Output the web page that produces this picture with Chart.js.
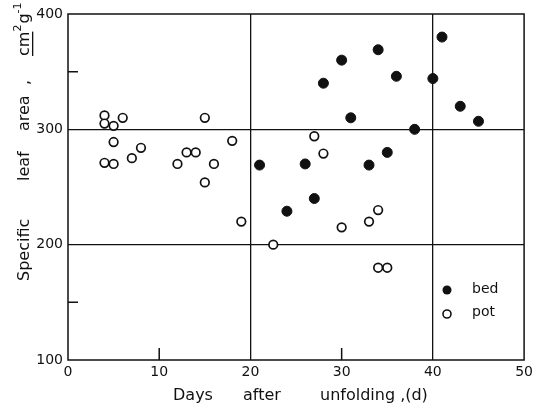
<!DOCTYPE html>
<html>
<head>
<meta charset="utf-8">
<script src="https://cdn.jsdelivr.net/npm/chart.js@4"></script>
<style>
  body { margin: 0; background: #fff; }
  canvas { display: block; }
</style>
</head>
<body>
<canvas id="chart" width="537" height="407"></canvas>
<script>
// values (days after unfolding, specific leaf area cm2/g)
const bedDays = [21, 24, 26, 27, 28, 30, 31, 33, 34, 35, 36, 38, 40, 41, 43, 45];
const bedSla  = [269, 229, 270, 240, 340, 360, 310, 269, 369, 280, 346, 300, 344, 380, 320, 307];

const potDays = [4, 4, 5, 6, 5, 4, 5, 7, 8, 12, 13, 14, 15, 16, 15, 18, 19, 22.5, 27, 28, 30, 33, 34, 34, 35];
const potSla  = [312, 305, 303, 310, 289, 271, 270, 275, 284, 270, 280, 280, 310, 270, 254, 290, 220, 200, 294, 279, 215, 220, 230, 180, 180];

const xTicks = [0, 10, 20, 30, 40, 50];
const yTicks = [100, 200, 300, 400];
const xGrid = [20, 40];
const yGrid = [200, 300];
const xMinor = [10, 30];
const yMinor = [150, 350];

const FONT = '"DejaVu Sans", sans-serif';

function toPoints(xs, ys) {
  return xs.map((x, i) => ({ x, y: ys[i] }));
}

// frame, inward minor ticks, axis titles and the legend
const decor = {
  id: 'decor',
  afterDraw(chart) {
    const { ctx, chartArea: a, scales } = chart;
    ctx.save();
    ctx.strokeStyle = '#111';
    ctx.lineWidth = 1.5;
    ctx.strokeRect(a.left, a.top, a.right - a.left, a.bottom - a.top);

    ctx.beginPath();
    for (const v of xMinor) {
      const px = scales.x.getPixelForValue(v);
      ctx.moveTo(px, a.bottom);
      ctx.lineTo(px, a.bottom - 12);
    }
    for (const v of yMinor) {
      const py = scales.y.getPixelForValue(v);
      ctx.moveTo(a.left, py);
      ctx.lineTo(a.left + 10, py);
    }
    ctx.stroke();

    ctx.fillStyle = '#111';
    ctx.textBaseline = 'alphabetic';

    // x title
    ctx.font = '16px ' + FONT;
    ctx.textAlign = 'left';
    ctx.fillText('Days', 173, 400);
    ctx.fillText('after', 243, 400);
    ctx.fillText('unfolding ,(d)', 320, 400);

    // y title, rotated
    ctx.translate(29, 0);
    ctx.rotate(-Math.PI / 2);
    const parts = [['Specific', -281], ['leaf', -181], ['area', -131], [',', -85]];
    for (const [t, yy] of parts) ctx.fillText(t, yy, 0);
    let pos = -56;
    ctx.fillText('cm', pos, 0);
    const cmw = ctx.measureText('cm').width;
    ctx.fillRect(pos, 3, cmw, 1.3);
    pos += cmw;
    ctx.font = '11px ' + FONT;
    ctx.fillText('2', pos, -8);
    pos += ctx.measureText('2').width + 1;
    ctx.font = '16px ' + FONT;
    ctx.fillText('g', pos, 0);
    pos += ctx.measureText('g').width;
    ctx.font = '11px ' + FONT;
    ctx.fillText('-1', pos, -8);
    ctx.setTransform(1, 0, 0, 1, 0, 0);

    // legend inside the plot
    const lx = 447;
    ctx.font = '14px ' + FONT;
    ctx.textBaseline = 'middle';
    ctx.beginPath();
    ctx.arc(lx, 290, 4.5, 0, Math.PI * 2);
    ctx.fill();
    ctx.fillText('bed', 472, 289);
    ctx.beginPath();
    ctx.lineWidth = 1.6;
    ctx.arc(lx, 314, 4, 0, Math.PI * 2);
    ctx.stroke();
    ctx.fillText('pot', 472, 312);
    ctx.restore();
  }
};

new Chart(document.getElementById('chart'), {
  type: 'scatter',
  data: {
    datasets: [
      {
        label: 'bed',
        data: toPoints(bedDays, bedSla),
        pointRadius: 5,
        pointBackgroundColor: '#111',
        pointBorderColor: '#111',
        pointBorderWidth: 1
      },
      {
        label: 'pot',
        data: toPoints(potDays, potSla),
        pointRadius: 4.3,
        pointBackgroundColor: '#fff',
        pointBorderColor: '#111',
        pointBorderWidth: 1.7
      }
    ]
  },
  options: {
    responsive: false,
    animation: false,
    layout: { padding: { left: 0, top: 14, right: 6, bottom: 0 } },
    plugins: { legend: { display: false }, tooltip: { enabled: false } },
    scales: {
      x: {
        type: 'linear',
        min: 0, max: 50,
        afterFit(s) { s.height = 47; },
        afterBuildTicks(s) { s.ticks = xTicks.map(v => ({ value: v })); },
        border: { display: false },
        grid: {
          drawTicks: false,
          lineWidth: 1.3,
          color: c => xGrid.includes(c.tick && c.tick.value) ? '#111' : 'rgba(0,0,0,0)'
        },
        ticks: { color: '#111', padding: 4, maxRotation: 0, font: { family: FONT, size: 14 } }
      },
      y: {
        min: 100, max: 400,
        afterFit(s) { s.width = 68; },
        afterBuildTicks(s) { s.ticks = yTicks.map(v => ({ value: v })); },
        border: { display: false },
        grid: {
          drawTicks: false,
          lineWidth: 1.3,
          color: c => yGrid.includes(c.tick && c.tick.value) ? '#111' : 'rgba(0,0,0,0)'
        },
        ticks: { color: '#111', padding: 5, font: { family: FONT, size: 14 } }
      }
    }
  },
  plugins: [decor]
});
</script>
</body>
</html>
